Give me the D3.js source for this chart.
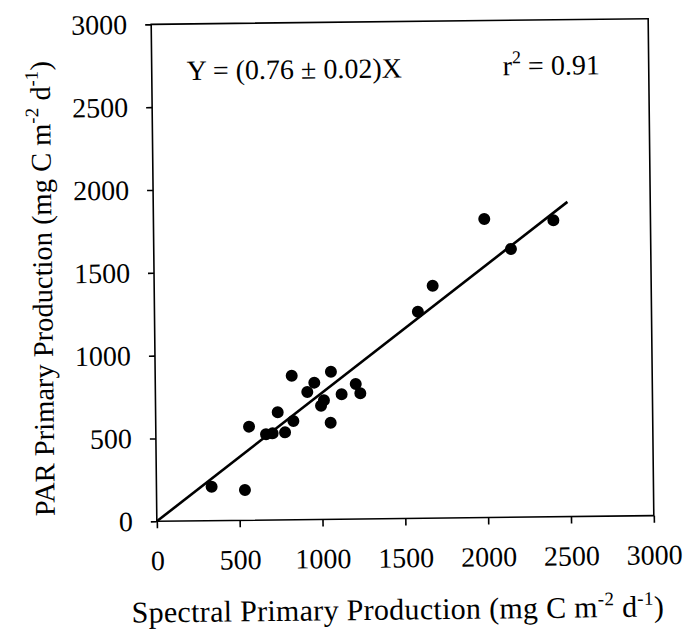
<!DOCTYPE html>
<html>
<head>
<meta charset="utf-8">
<script src="https://cdn.jsdelivr.net/npm/d3@7"></script>
<style>
  body { margin: 0; background: #fff; }
  text { font-family: "Liberation Serif", "Times New Roman", serif; fill: #000; }
</style>
</head>
<body>
<div id="chart"></div>
<script>
// spectral vs PAR primary production (mg C m-2 d-1)
const spectralX = [333, 534, 563, 665, 705, 737, 780, 831, 824, 917, 960, 999, 1017, 1061, 1056, 1124, 1210, 1237, 1590, 1681, 1997, 2156, 2414];
const parY     = [205, 183, 565, 518, 523, 650, 528, 596, 869, 770, 826, 686, 719, 891, 583, 754, 815, 759, 1247, 1403, 1802, 1619, 1790];
const slope = 0.76;
const fitRange = [0, 2500];
const xTicks = [0, 500, 1000, 1500, 2000, 2500, 3000];
const yTicks = [0, 500, 1000, 1500, 2000, 2500, 3000];

const svgWidth = 687, svgHeight = 634;
const margin = { left: 154, top: 21.5 };
const width = 497;
const height = 497;

// the scanned figure sits slightly tilted
const root = d3.select("#chart")
  .append("svg")
  .attr("width", svgWidth)
  .attr("height", svgHeight)
  .append("g")
  .attr("transform", "rotate(-0.65, 402.5, 270)");

const svg = root.append("g")
  .attr("transform", `translate(${margin.left},${margin.top})`);

const xScale = d3.scaleLinear().domain([0, 3000]).range([0, width]);
const yScale = d3.scaleLinear().domain([0, 3000]).range([height, 0]);

// frame
svg.append("rect")
  .attr("width", width)
  .attr("height", height)
  .attr("fill", "none")
  .attr("stroke", "black")
  .attr("stroke-width", 1.6);

const xAxis = d3.axisBottom(xScale).tickValues(xTicks).tickFormat(d3.format("d"))
  .tickSize(7).tickSizeOuter(0).tickPadding(22);
const yAxis = d3.axisLeft(yScale).tickValues(yTicks).tickFormat(d3.format("d"))
  .tickSize(6).tickSizeOuter(0).tickPadding(18);

const gx = svg.append("g")
  .attr("transform", `translate(0, ${height})`)
  .call(xAxis);
const gy = svg.append("g").call(yAxis);

[gx, gy].forEach(g => {
  g.select(".domain").remove();
  g.selectAll("line").attr("stroke", "black").attr("stroke-width", 1.6);
  g.selectAll("text")
    .attr("font-size", "28px")
    .attr("font-family", "Liberation Serif, serif");
});

// regression line
svg.append("line")
  .attr("x1", xScale(fitRange[0]))
  .attr("y1", yScale(slope * fitRange[0]))
  .attr("x2", xScale(fitRange[1]))
  .attr("y2", yScale(slope * fitRange[1]))
  .attr("stroke", "black")
  .attr("stroke-width", 2.6);

// points
svg.selectAll("circle")
  .data(spectralX.map((x, i) => [x, parY[i]]))
  .enter().append("circle")
  .attr("cx", d => xScale(d[0]))
  .attr("cy", d => yScale(d[1]))
  .attr("r", 6)
  .attr("fill", "black");

// equation and r2
svg.append("text")
  .attr("x", 35)
  .attr("y", 56)
  .attr("font-size", "28px")
  .text("Y = (0.76 \u00b1 0.02)X");

const r2 = svg.append("text")
  .attr("x", 351)
  .attr("y", 55)
  .attr("font-size", "28px");
r2.append("tspan").text("r");
r2.append("tspan").attr("font-size", "18px").attr("dy", "-12").text("2");
r2.append("tspan").attr("dy", "12").text(" = 0.91");

// axis labels
function unitLabel(t, label) {
  t.append("tspan").text(label + " (mg C m");
  t.append("tspan").attr("font-size", "19px").attr("dy", "-12").text("-2");
  t.append("tspan").attr("dy", "12").text(" d");
  t.append("tspan").attr("font-size", "19px").attr("dy", "-12").text("-1");
  t.append("tspan").attr("dy", "12").text(")");
}

const xl = svg.append("text")
  .attr("x", 240)
  .attr("y", height + 101)
  .attr("text-anchor", "middle")
  .attr("font-size", "30px")
  .attr("letter-spacing", "0.3px");
unitLabel(xl, "Spectral Primary Production");

const yl = svg.append("text")
  .attr("transform", "rotate(-90)")
  .attr("x", -263)
  .attr("y", -102)
  .attr("text-anchor", "middle")
  .attr("font-size", "28.5px");
unitLabel(yl, "PAR Primary Production");
</script>
</body>
</html>
